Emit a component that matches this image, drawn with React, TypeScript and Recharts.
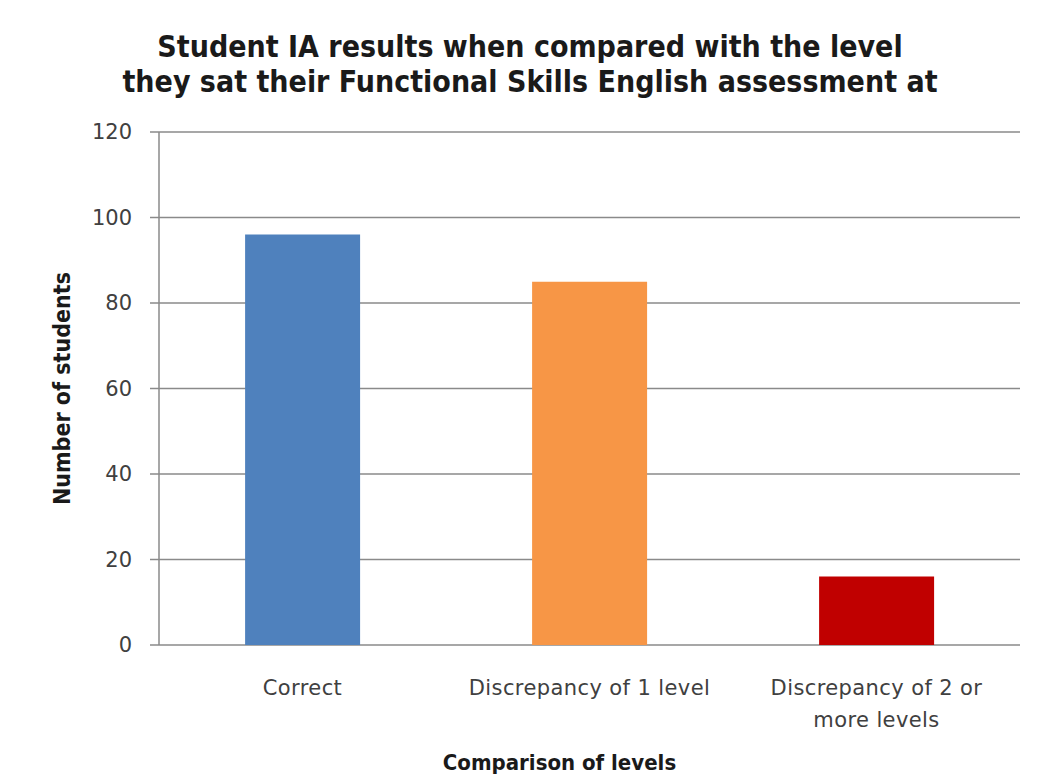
import React from 'react';
import { BarChart, Bar, XAxis, YAxis, CartesianGrid, Cell, Label } from 'recharts';

const categories = ['Correct', 'Discrepancy of 1 level', 'Discrepancy of 2 or\nmore levels'];
const students = [96, 85, 16];
const barColors = ['#4F81BD', '#F79646', '#C00000'];
const yTicks = [0, 20, 40, 60, 80, 100, 120];
const boundaryTicks = [0, 1, 2, 3];

const data = categories.map((c, i) => ({ name: c, value: students[i] }));

const FONT = '"Liberation Sans Narrow", "DejaVu Sans Condensed", "Open Sans", sans-serif';
const TICK_FONT = '"DejaVu Sans", Verdana, sans-serif';

const CatTick = (props: any) => {
  const { x, y, payload } = props;
  const lines = String(payload.value).split('\n');
  return (
    <g>
      {lines.map((l: string, i: number) => (
        <text
          key={i}
          x={x}
          y={y + 42 + i * 32}
          textAnchor="middle"
          fill="#404040"
          fontSize={21}
          letterSpacing={0.4}
          fontFamily={TICK_FONT}
        >
          {l}
        </text>
      ))}
    </g>
  );
};

export default function App() {
  return (
    <div style={{ position: 'absolute', left: 0, top: 0, width: 1051, height: 775, background: '#fff' }}>
      <div
        style={{
          position: 'absolute',
          left: 0,
          top: 29,
          width: 1060,
          textAlign: 'center',
          fontFamily: FONT,
          fontWeight: 'bold',
          fontSize: 30,
          lineHeight: '35px',
          color: '#1a1a1a',
        }}
      >
        Student IA results when compared with the level
        <br />
        they sat their Functional Skills English assessment at
      </div>
      <BarChart
        width={1051}
        height={775}
        data={data}
        margin={{ top: 132, right: 31, bottom: 0, left: 0 }}
        barCategoryGap="30%"
      >
        <CartesianGrid horizontal vertical={false} stroke="#8a8a8a" strokeWidth={1.5} />
        <XAxis
          xAxisId="bounds"
          type="number"
          dataKey="idx"
          domain={[0, 3]}
          ticks={boundaryTicks}
          tick={() => <g />}
          tickSize={10}
          tickLine={{ stroke: '#8a8a8a', strokeWidth: 1.5 }}
          axisLine={{ stroke: '#8a8a8a', strokeWidth: 1.5 }}
          height={0}
          allowDataOverflow
        />
        <XAxis
          xAxisId="cat"
          dataKey="name"
          interval={0}
          tick={<CatTick />}
          tickLine={false}
          axisLine={false}
          height={130}
        >
          <Label
            value="Comparison of levels"
            position="insideBottom"
            offset={5}
            dx={-30}
            fill="#1a1a1a"
            fontSize={22}
            fontWeight="bold"
            fontFamily={FONT}
          />
        </XAxis>
        <YAxis
          domain={[0, 120]}
          ticks={yTicks}
          width={159}
          tickSize={9}
          tickMargin={18}
          tick={{ fill: '#404040', fontSize: 21, fontFamily: TICK_FONT }}
          tickLine={{ stroke: '#8a8a8a', strokeWidth: 1.5 }}
          axisLine={{ stroke: '#8a8a8a', strokeWidth: 1.5 }}
        >
          <Label
            value="Number of students"
            angle={-90}
            position="insideLeft"
            offset={62}
            fill="#1a1a1a"
            fontSize={23}
            fontWeight="bold"
            fontFamily={FONT}
            style={{ textAnchor: 'middle' }}
          />
        </YAxis>
        <Bar xAxisId="cat" dataKey="value" isAnimationActive={false}>
          {data.map((d, i) => (
            <Cell key={d.name} fill={barColors[i]} />
          ))}
        </Bar>
      </BarChart>
    </div>
  );
}
